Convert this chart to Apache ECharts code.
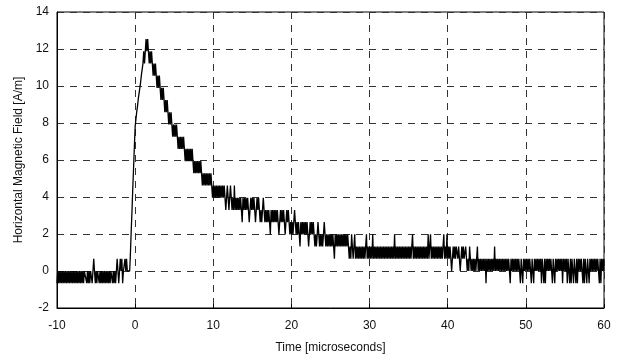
<!DOCTYPE html>
<html>
<head>
<meta charset="utf-8">
<script src="https://cdn.jsdelivr.net/npm/echarts@6/dist/echarts.min.js"></script>
<style>
html,body{margin:0;padding:0;background:#fff;}
#chart{width:621px;height:363px;}
</style>
</head>
<body>
<div id="chart"></div>
<script>
// Sampling of the recorded waveform (microseconds)
const sampleStart = -10;
const sampleStep = 0.1;

// Field values [A/m], one per sample (10 per line = 1 microsecond)
const segPre1 = [ // t = -10.0 ... -5.1
  -0.66,0,-0.66,0,-0.66,0,-0.66,0,-0.66,0,
  -0.66,0,-0.66,0,-0.66,0,-0.66,0,-0.66,0,
  -0.66,0,-0.66,0,-0.66,0,-0.66,0,-0.66,0,
  -0.66,0,-0.66,0,-0.66,0,0,0,-0.66,0,
  -0.66,0,-0.66,0,0,-0.66,0,0.66,0,-0.66
];
const segPre2 = [ // t = -5.0 ... -0.1
  0,-0.66,0,0,-0.66,0,-0.66,0,-0.66,0,
  -0.66,0,-0.66,0,-0.66,0,-0.66,0,-0.66,0,
  0,-0.66,0,-0.66,0,-0.66,0,0.66,0,-0.66,
  0,0.66,0,0.66,-0.66,0,0,0.66,0,0.66,
  0,0,0,0,1.0,2.2,3.3,4.5,5.6,6.7
];
const segPeak = [ // t = 0.0 ... 4.9
  7.8,8.2,8.6,8.9,9.3,9.6,9.9,10.2,10.6,10.9,
  11.22,11.88,11.22,11.88,12.54,11.88,12.54,11.88,11.22,11.88,
  11.22,11.88,11.22,10.56,11.22,10.56,11.22,10.56,9.9,10.56,
  9.9,10.56,9.9,9.24,9.9,9.24,9.9,9.24,8.58,9.24,
  8.58,9.24,8.58,7.92,8.58,7.92,8.58,7.92,7.26,7.92
];
const segDecay1 = [ // t = 5.0 ... 9.9
  7.26,7.92,7.26,7.92,7.26,6.6,7.26,6.6,7.26,6.6,
  7.26,6.6,7.26,6.6,5.94,6.6,5.94,6.6,5.94,6.6,
  5.94,6.6,5.94,6.6,5.94,5.28,5.94,5.28,5.94,5.28,
  5.94,5.28,5.94,5.28,5.94,5.28,4.62,5.28,4.62,5.28,
  4.62,5.28,4.62,5.28,4.62,5.28,4.62,5.28,4.62,3.96
];
const segDecay2 = [ // t = 10.0 ... 14.9
  4.62,3.96,4.62,3.96,4.62,3.96,4.62,3.96,4.62,3.96,
  4.62,3.96,4.62,3.96,4.62,3.96,3.3,3.96,4.62,3.96,
  3.3,3.96,4.62,3.96,3.3,3.96,3.3,4.62,3.3,3.96,
  3.3,3.96,3.3,3.96,3.3,3.96,3.3,2.64,3.96,3.3,
  3.96,3.3,3.96,3.3,3.96,3.3,2.64,3.3,3.96,3.3
];
const segDecay3 = [ // t = 15.0 ... 19.9
  3.96,3.3,3.96,3.3,2.64,3.3,3.96,3.3,3.96,3.3,
  2.64,3.3,2.64,3.3,3.96,3.3,2.64,3.3,2.64,3.3,
  2.64,3.3,2.64,1.98,3.3,2.64,3.3,2.64,3.3,2.64,
  3.3,2.64,3.3,2.64,1.98,2.64,3.3,2.64,3.3,2.64,
  3.3,2.64,1.98,2.64,3.3,2.64,3.3,2.64,1.98,2.64
];
const segDecay4 = [ // t = 20.0 ... 24.9
  1.98,2.64,1.98,2.64,3.3,2.64,1.98,2.64,1.98,2.64,
  1.98,1.32,2.64,1.98,2.64,1.98,2.64,1.98,2.64,1.98,
  2.64,1.98,1.32,1.98,2.64,1.98,2.64,1.98,2.64,1.98,
  1.32,1.98,1.32,1.98,2.64,1.98,1.32,1.98,1.32,1.98,
  1.32,1.98,2.64,1.98,1.32,1.98,1.32,1.98,1.32,1.98
];
const segDecay5 = [ // t = 25.0 ... 29.9
  1.32,1.98,1.32,1.98,1.32,0.66,1.98,1.32,1.98,1.32,
  1.98,1.32,1.98,1.32,1.98,1.32,1.98,1.32,1.98,1.32,
  1.98,1.32,1.98,1.32,0.66,1.32,0.66,1.98,1.32,0.66,
  1.32,1.98,0.66,1.32,0.66,1.32,0.66,1.32,0.66,1.32,
  0.66,1.32,0.66,1.32,0.66,1.32,1.98,0.66,1.32,0.66
];
const segTail1 = [ // t = 30.0 ... 34.9
  1.32,0.66,1.32,0.66,1.98,0.66,1.32,0.66,1.32,0.66,
  1.32,0.66,1.32,0.66,1.32,0.66,1.32,0.66,1.32,0.66,
  1.32,0.66,1.32,0.66,1.32,0.66,1.32,0.66,1.32,0.66,
  1.32,0.66,1.98,0.66,1.32,0.66,1.32,0.66,1.32,0.66,
  1.32,0.66,1.32,0.66,1.32,0.66,1.32,0.66,1.32,0.66
];
const segTail2 = [ // t = 35.0 ... 39.9
  1.32,0.66,1.32,0.66,1.32,1.98,0.66,1.32,0.66,1.32,
  0.66,1.32,0.66,1.32,0.66,1.32,0.66,1.32,0.66,1.32,
  0.66,1.32,0.66,1.32,0.66,1.98,0.66,1.32,1.98,0.66,
  1.32,0.66,1.32,0.66,1.32,0.66,1.32,0.66,1.32,0.66,
  1.32,0.66,1.32,0.66,1.32,1.98,0.66,1.32,0.66,1.98
];
const segTail3 = [ // t = 40.0 ... 44.9
  0.66,1.32,0.66,1.32,0.66,0,0.66,1.32,0.66,1.32,
  0.66,1.32,1.32,0.66,1.32,0.66,0,0.66,1.32,0.66,
  1.32,0.66,0.66,1.32,0.66,0,0.66,0,1.32,0.66,
  0,0.66,0,0.66,0,0.66,0,0.66,1.32,0,
  0.66,0,0.66,0,0.66,0,0.66,0,0.66,-0.66
];
const segTail4 = [ // t = 45.0 ... 49.9
  0.66,0,0.66,0,0.66,0,0.66,0,0.66,0,
  1.32,0,0.66,0,0.66,0,0.66,0,0.66,0,
  0.66,0,0.66,0,0.66,0,0.66,0,0.66,0,
  -0.66,0.66,0,0.66,0,0.66,0,0.66,0,0.66,
  0,0.66,0,-0.66,0.66,0,-0.66,0.66,0,0.66
];
const segTail5 = [ // t = 50.0 ... 54.9
  0,0.66,0,0.66,0,0.66,0,-0.66,0.66,0,
  -0.66,0.66,0,0.66,0,0.66,0,0.66,0,0.66,
  -0.66,0.66,0,-0.66,0.66,-0.66,0.66,0,0.66,0,
  0.66,0,0.66,0,-0.66,0.66,0,-0.66,0.66,0,
  0.66,0,0.66,0,0.66,0,0.66,-0.66,0.66,0
];
const segTail6 = [ // t = 55.0 ... 60.0
  0.66,0,0.66,-0.66,0.66,0,-0.66,0.66,-0.66,0.66,
  0,-0.66,0.66,0,-0.66,0.66,-0.66,0.66,0,0.66,
  0,0.66,0,-0.66,0.66,-0.66,0.66,0,-0.66,0.66,
  0,-0.66,0.66,0,0.66,0,0.66,0,0.66,0,
  0.66,0,0.66,0,-0.66,0.66,-0.66,0.66,0,0.66,
  0
];

const xTicks = { min: -10, max: 60, interval: 10 };
const yTicks = { min: -2, max: 14, interval: 2 };

const values = [].concat(segPre1, segPre2, segPeak, segDecay1, segDecay2, segDecay3, segDecay4,
  segDecay5, segTail1, segTail2, segTail3, segTail4, segTail5, segTail6);
const seriesData = values.map((v, i) => [+(sampleStart + i * sampleStep).toFixed(2), v]);

const font = 'Liberation Sans, Arial, Helvetica, sans-serif';
const gridDash = { color: '#333', width: 1, type: [7, 6] };

const chart = echarts.init(document.getElementById('chart'), null, { renderer: 'canvas' });
chart.setOption({
  animation: false,
  backgroundColor: '#fff',
  grid: { left: 57, right: 17, top: 12, bottom: 55, show: true, borderColor: '#000', borderWidth: 1, backgroundColor: 'transparent' },
  xAxis: {
    type: 'value', min: xTicks.min, max: xTicks.max, interval: xTicks.interval,
    name: 'Time [microseconds]', nameLocation: 'middle', nameGap: 34,
    nameTextStyle: { fontFamily: font, fontSize: 12, color: '#111' },
    axisLine: { show: true, onZero: false, lineStyle: { color: '#000', width: 1 } },
    axisTick: { show: true, inside: true, length: 4, lineStyle: { color: '#000' } },
    axisLabel: { fontFamily: font, fontSize: 12, color: '#111', margin: 12 },
    splitLine: { show: true, lineStyle: gridDash }
  },
  yAxis: {
    type: 'value', min: yTicks.min, max: yTicks.max, interval: yTicks.interval,
    name: 'Horizontal Magnetic Field [A/m]', nameLocation: 'middle', nameGap: 31, nameRotate: 90,
    nameTextStyle: { fontFamily: font, fontSize: 12, color: '#111' },
    axisLine: { show: true, onZero: false, lineStyle: { color: '#000', width: 1 } },
    axisTick: { show: false },
    axisLabel: { fontFamily: font, fontSize: 12, color: '#111', margin: 8 },
    splitLine: { show: true, lineStyle: gridDash }
  },
  series: [{
    type: 'line', data: seriesData, showSymbol: false, symbol: 'none',
    sampling: null, smooth: false,
    lineStyle: { color: '#000', width: 1.3 }
  }]
});
</script>
</body>
</html>
